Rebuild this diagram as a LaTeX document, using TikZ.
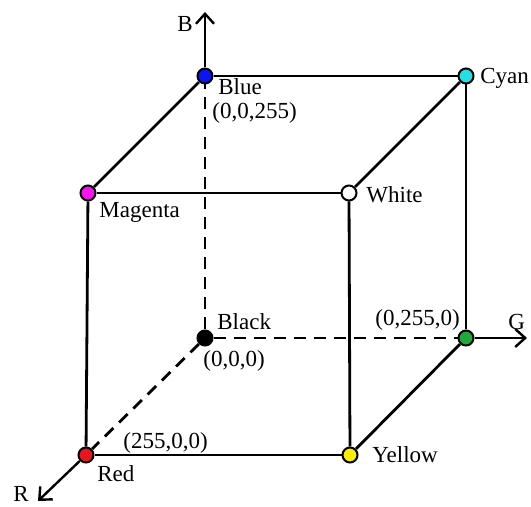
\documentclass[tikz,border=0pt]{standalone}
\usepackage{fontspec}
\setmainfont{Liberation Serif}
\usetikzlibrary{arrows.meta}
\definecolor{rgbred}{HTML}{E8141E}
\definecolor{rgbgreen}{HTML}{1FAA3C}
\definecolor{rgbblue}{HTML}{0A14F5}
\definecolor{rgbcyan}{HTML}{22E0E6}
\definecolor{rgbmagenta}{HTML}{F514F0}
\definecolor{rgbyellow}{HTML}{FFEE00}
\tikzset{
  rgbdot/.style={
    circle, draw=black, line width=1pt, minimum size=7.5pt, inner sep=0pt},
  rgbedge/.style={line width=1.4pt},
  rgbhidden/.style={line width=1.4pt, dash pattern=on 6pt off 4pt},
  rgbaxis/.style={line width=1.2pt, -{Straight Barb[length=5pt, width=9pt]}},
  rgblabel/.style={
    anchor=base west, inner sep=0pt, font=\fontsize{11.5}{13}\selectfont},
}

\begin{document}
\begin{tikzpicture}[x=0.5pt, y=-0.5pt]
\useasboundingbox (0, 0) rectangle (531, 507);

% Corners of the cube.
\node[rgbdot, fill=black] (black) at (205, 338) {};
\node[rgbdot, fill=rgbblue] (blue) at (205, 76) {};
\node[rgbdot, fill=rgbcyan] (cyan) at (466, 76) {};
\node[rgbdot, fill=rgbgreen] (green) at (466, 338) {};
\node[rgbdot, fill=rgbmagenta] (magenta) at (88, 193) {};
\node[rgbdot, fill=white] (white) at (349, 193) {};
\node[rgbdot, fill=rgbyellow] (yellow) at (350, 455) {};
\node[rgbdot, fill=rgbred] (red) at (86, 455) {};

% Axis ends.
\coordinate (bEnd) at (205, 12);
\coordinate (gEnd) at (527, 338);
\coordinate (rEnd) at (38, 501);

% Hidden edges.
\draw[rgbhidden] (black) -- (blue);
\draw[rgbhidden] (black) -- (green);
\draw[rgbhidden] (black) -- (red);

% Visible edges.
\draw[rgbedge] (blue) -- (cyan);
\draw[rgbedge] (cyan) -- (green);
\draw[rgbedge] (magenta) -- (white);
\draw[rgbedge] (white) -- (yellow);
\draw[rgbedge] (yellow) -- (red);
\draw[rgbedge] (red) -- (magenta);
\draw[rgbedge] (magenta) -- (blue);
\draw[rgbedge] (white) -- (cyan);
\draw[rgbedge] (yellow) -- (green);

% Axes.
\draw[rgbaxis] (blue) -- (bEnd);
\draw[rgbaxis] (green) -- (gEnd);
\draw[rgbaxis] (red) -- (rEnd);

% Labels.
\node[rgblabel] (bLabel) at (177, 32) {B};
\node[rgblabel] (gLabel) at (508, 330) {G};
\node[rgblabel] (rLabel) at (13, 502) {R};
\node[rgblabel] (blueName) at (218, 95) {Blue};
\node[rgblabel] (blueValue) at (212, 119) {(0,0,255)};
\node[rgblabel] (cyanName) at (480, 84) {Cyan};
\node[rgblabel] (whiteName) at (366, 203) {White};
\node[rgblabel] (magentaName) at (99, 218) {Magenta};
\node[rgblabel] (blackName) at (217, 330) {Black};
\node[rgblabel] (blackValue) at (203, 367) {(0,0,0)};
\node[rgblabel] (greenValue) at (375, 326) {(0,255,0)};
\node[rgblabel] (redValue) at (123, 449) {(255,0,0)};
\node[rgblabel] (redName) at (97, 482) {Red};
\node[rgblabel] (yellowName) at (372, 463) {Yellow};

\end{tikzpicture}
\end{document}
